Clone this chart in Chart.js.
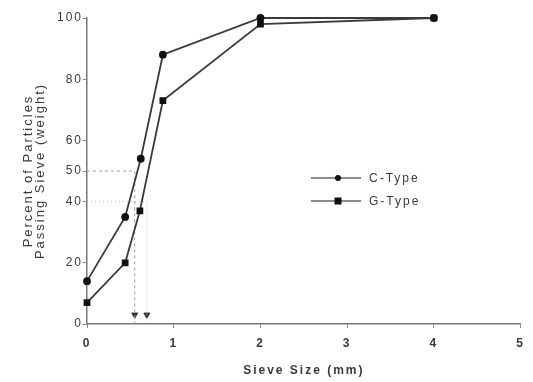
<!DOCTYPE html>
<html>
<head>
<meta charset="utf-8">
<script src="https://cdn.jsdelivr.net/npm/chart.js@4"></script>
<style>
  body { margin: 0; background: #fff; }
  #wrap { width: 533px; height: 382px; }
</style>
</head>
<body>
<div id="wrap"><canvas id="sieve-chart"></canvas></div>
<script>
// sieve analysis
const cSize = [0, 0.44, 0.62, 0.875, 2, 4];
const cPass = [14, 35, 54, 88, 100, 100];
const gSize = [0, 0.44, 0.61, 0.875, 2, 4];
const gPass = [7, 20, 37, 73, 98, 100];
const yTicks = [0, 20, 40, 50, 60, 80, 100];
const xTicks = [0, 1, 2, 3, 4, 5];
// D50 guides: C-Type ~0.55 mm at 50 %, G-Type ~0.69 mm at 40 %
const guideC = [0.55, 50];
const guideG = [0.69, 40];

const ink = '#3a3a3a';
const font = '"Liberation Sans", Arial, sans-serif';
const toXY = (xs, ys) => xs.map((x, i) => ({ x: x, y: ys[i] }));

// the scanned figure has widely spaced lettering
const spacingPlugin = {
  id: 'spacing',
  beforeUpdate(chart) { chart.ctx.letterSpacing = '2px'; },
  beforeDraw(chart) { chart.ctx.letterSpacing = '2px'; }
};

const legendPlugin = {
  id: 'insideLegend',
  afterDraw(chart) {
    const ctx = chart.ctx;
    const rows = [
      { label: 'C-Type', style: 'circle', y: 178 },
      { label: 'G-Type', style: 'rect', y: 201 }
    ];
    ctx.save();
    rows.forEach(r => {
      ctx.strokeStyle = '#666';
      ctx.lineWidth = 1.5;
      ctx.beginPath();
      ctx.moveTo(311, r.y);
      ctx.lineTo(361, r.y);
      ctx.stroke();
      ctx.fillStyle = '#111';
      if (r.style === 'circle') {
        ctx.beginPath();
        ctx.arc(338, r.y, 3, 0, Math.PI * 2);
        ctx.fill();
      } else {
        ctx.fillRect(334.5, r.y - 3.5, 7, 7);
      }
      ctx.fillStyle = ink;
      ctx.font = '12px ' + font;
      ctx.textBaseline = 'middle';
      ctx.fillText(r.label, 369, r.y + 1);
    });
    ctx.restore();
  }
};

const guideStyle = {
  borderColor: '#9a9a9a',
  borderWidth: 1,
  borderDash: [3, 3],
  pointRadius: 0,
  showLine: true,
  fill: false
};

new Chart(document.getElementById('sieve-chart'), {
  type: 'scatter',
  data: {
    datasets: [
      {
        label: 'C-Type',
        data: toXY(cSize, cPass),
        showLine: true,
        clip: false,
        borderColor: ink,
        borderWidth: 1.8,
        pointStyle: 'circle',
        pointRadius: 3,
        pointBackgroundColor: '#111',
        pointBorderColor: '#111'
      },
      {
        label: 'G-Type',
        data: toXY(gSize, gPass),
        showLine: true,
        clip: false,
        borderColor: ink,
        borderWidth: 1.8,
        pointStyle: 'rect',
        pointRadius: 3.5,
        pointBackgroundColor: '#111',
        pointBorderColor: '#111'
      },
      Object.assign({ data: [{ x: 0, y: guideC[1] }, { x: guideC[0], y: guideC[1] }, { x: guideC[0], y: 0 }] }, guideStyle),
      Object.assign({ data: [{ x: 0, y: guideG[1] }, { x: guideG[0], y: guideG[1] }, { x: guideG[0], y: 0 }] }, guideStyle, { borderColor: '#c4c4c4', borderDash: [1, 3] }),
      {
        data: [{ x: guideC[0], y: 3 }, { x: guideG[0], y: 3 }],
        showLine: false,
        pointStyle: 'triangle',
        rotation: 180,
        pointRadius: 3.5,
        pointBackgroundColor: '#333',
        pointBorderColor: '#333'
      }
    ]
  },
  options: {
    responsive: true,
    maintainAspectRatio: false,
    animation: false,
    layout: { padding: { top: 18, right: 11, bottom: 0, left: 18 } },
    plugins: {
      legend: { display: false },
      tooltip: { enabled: false }
    },
    scales: {
      x: {
        type: 'linear',
        min: 0,
        max: 5,
        afterBuildTicks: s => { s.ticks = xTicks.map(v => ({ value: v })); },
        afterFit: s => { s.height = 58; },
        grid: { drawOnChartArea: false, drawTicks: true, tickLength: 4, color: '#888' },
        border: { color: '#777', width: 1.5 },
        ticks: {
          color: ink,
          padding: 8,
          font: { family: font, size: 12, weight: 'bold' }
        },
        title: {
          display: true,
          text: 'Sieve Size (mm)',
          color: ink,
          padding: { top: 2 },
          font: { family: font, size: 12, weight: 'bold' }
        }
      },
      y: {
        type: 'linear',
        min: 0,
        max: 100,
        afterBuildTicks: s => { s.ticks = yTicks.map(v => ({ value: v })); },
        afterFit: s => { s.width = 69; },
        grid: { drawOnChartArea: false, drawTicks: true, tickLength: 4, color: '#888' },
        border: { color: '#777', width: 1.5 },
        ticks: {
          color: ink,
          padding: 0,
          font: { family: font, size: 12 }
        },
        title: {
          display: true,
          text: ['Percent of Particles', 'Passing Sieve (weight)'],
          color: ink,
          padding: { bottom: 2 },
          font: { family: font, size: 13, lineHeight: 0.95 }
        }
      }
    }
  },
  plugins: [spacingPlugin, legendPlugin]
});
</script>
</body>
</html>
